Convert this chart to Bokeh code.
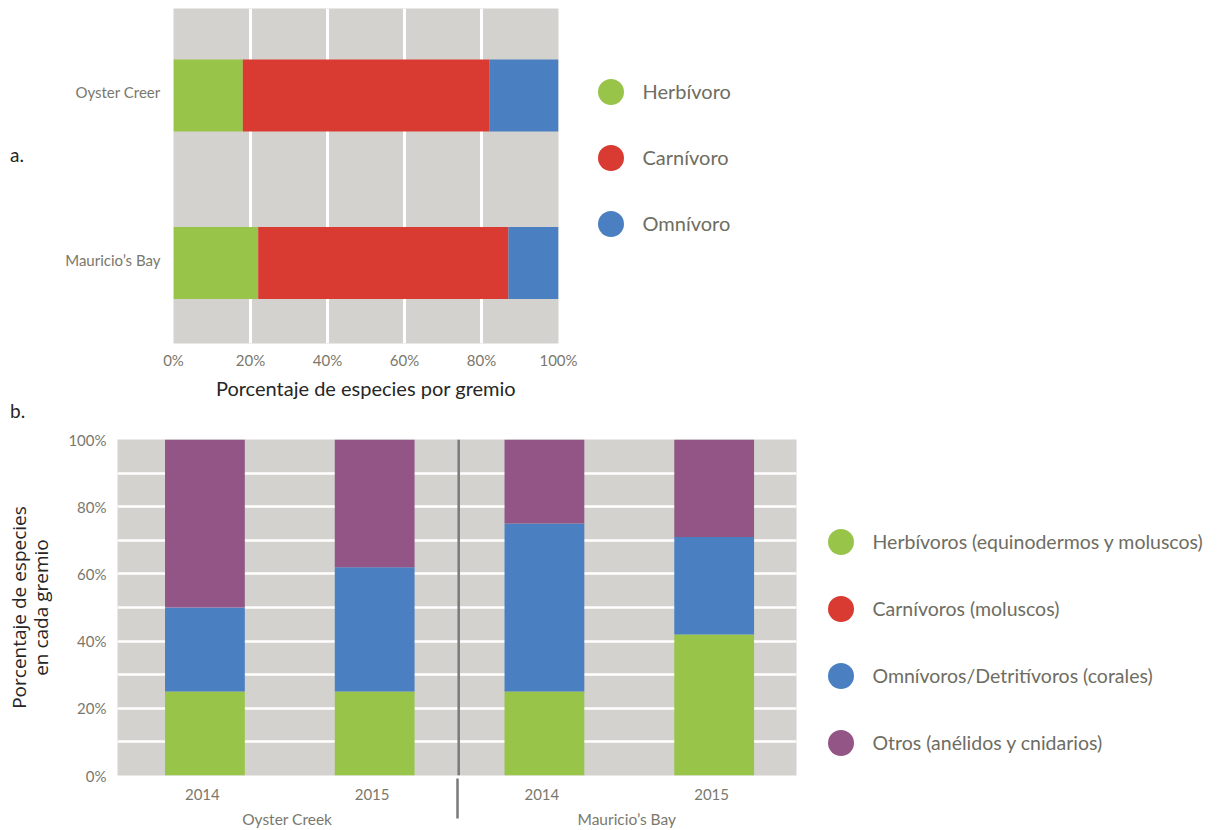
from bokeh.plotting import figure
from bokeh.models import (FactorRange, Range1d, Legend, LegendItem, FixedTicker,
                          PrintfTickFormatter, Span, ColumnDataSource, Div)
from bokeh.transform import dodge
from bokeh.layouts import column, row
from bokeh.embed import file_html
from bokeh.resources import INLINE

# ---------------- data ----------------
sites_a = ["Mauricio\u2019s Bay", "Oyster Creer"]
herb_a = [22, 18]
carn_a = [65, 64]
omni_a = [13, 18]
legend_a = ["Herbívoro", "Carnívoro", "Omnívoro"]

sites_b = ["Oyster Creek", "Mauricio\u2019s Bay"]
years_b = ["2014", "2015"]
herb_b = [25, 25, 25, 42]
carn_b = [0, 0, 0, 0]
omni_b = [25, 37, 50, 29]
otros_b = [50, 38, 25, 29]
legend_b = ["Herbívoros (equinodermos y moluscos)", "Carnívoros (moluscos)",
            "Omnívoros/Detritívoros (corales)", "Otros (anélidos y cnidarios)"]

pct_ticks_a = [0, 20, 40, 60, 80, 100]
pct_ticks_b = [0, 20, 40, 60, 80, 100]
minor_b = [10, 30, 50, 70, 90]

GREEN = "#98C44A"
RED = "#D93A32"
BLUE = "#4A80C2"
PURPLE = "#925586"
BG = "#D4D2CE"
TICK = "#7A786D"
LEG = "#6E6D62"
DARK = "#262626"
FONT = "Lato"
NAN = float("nan")

# ---------------- figure a ----------------
pa = figure(frame_width=385, frame_height=335, output_backend="svg",
            toolbar_location=None,
            y_range=FactorRange(*sites_a), x_range=Range1d(0, 100),
            min_border_left=133, min_border_right=660, min_border_top=8,
            min_border_bottom=59)
pa.background_fill_color = BG
pa.border_fill_color = "white"
pa.outline_line_color = None

src_a = ColumnDataSource(dict(site=sites_a, herb=herb_a, carn=carn_a, omni=omni_a))
pa.hbar_stack(["herb", "carn", "omni"], y=dodge("site", -0.02, range=pa.y_range),
              height=0.43, color=[GREEN, RED, BLUE], line_color=None, source=src_a)

pa.xaxis.ticker = FixedTicker(ticks=pct_ticks_a)
pa.xaxis.formatter = PrintfTickFormatter(format="%d%%")
pa.xgrid.ticker = FixedTicker(ticks=pct_ticks_a[1:-1])
pa.xgrid.grid_line_color = "white"
pa.xgrid.grid_line_width = 3
pa.ygrid.grid_line_color = None
for ax in (pa.xaxis[0], pa.yaxis[0]):
    ax.axis_line_color = None
    ax.major_tick_line_color = None
    ax.minor_tick_line_color = None
    ax.major_label_text_color = TICK
    ax.major_label_text_font = FONT
    ax.major_label_text_font_size = "15px"
pa.xaxis.major_label_standoff = 1
pa.yaxis.major_label_standoff = 7
pa.xaxis.axis_label = "Porcentaje de especies por gremio"
pa.xaxis.axis_label_text_font = FONT
pa.xaxis.axis_label_text_font_style = "normal"
pa.xaxis.axis_label_text_font_size = "20px"
pa.xaxis.axis_label_text_color = DARK
pa.xaxis.axis_label_standoff = 4

leg_r_a = []
for c in (GREEN, RED, BLUE):
    leg_r_a.append(pa.scatter(x=[NAN], y=[NAN], marker="circle", size=26,
                              fill_color=c, line_color=None))
leg_a = Legend(items=[LegendItem(label=l, renderers=[r]) for l, r in zip(legend_a, leg_r_a)],
               location=(19.5, 87.5), glyph_width=65, glyph_height=65, spacing=1,
               label_standoff=0, padding=0, margin=0, border_line_color=None,
               background_fill_alpha=0, label_text_font=FONT,
               label_text_font_size="20px", label_text_color=LEG)
pa.add_layout(leg_a, "right")

# ---------------- figure b ----------------
factors = [(s, y) for s in sites_b for y in years_b]
pb = figure(frame_width=679, frame_height=336, output_backend="svg",
            toolbar_location=None,
            x_range=FactorRange(*factors, factor_padding=0, group_padding=0,
                                range_padding=0),
            y_range=Range1d(0, 100),
            min_border_left=117, min_border_right=422, min_border_top=19,
            min_border_bottom=55)
pb.background_fill_color = BG
pb.border_fill_color = "white"
pb.outline_line_color = None

src_b = ColumnDataSource(dict(x=factors, herb=herb_b, carn=carn_b, omni=omni_b,
                              otros=otros_b))
pb.vbar_stack(["herb", "carn", "omni", "otros"], x=dodge("x", 0.015, range=pb.x_range),
              width=0.47, color=[GREEN, RED, BLUE, PURPLE], line_color=None,
              source=src_b)

pb.yaxis.ticker = FixedTicker(ticks=pct_ticks_b, minor_ticks=minor_b)
pb.yaxis.formatter = PrintfTickFormatter(format="%d%%")
pb.ygrid.grid_line_color = "white"
pb.ygrid.grid_line_width = 2.5
pb.ygrid.minor_grid_line_color = "white"
pb.ygrid.minor_grid_line_width = 2.5
pb.xgrid.grid_line_color = None
for ax in (pb.xaxis[0], pb.yaxis[0]):
    ax.axis_line_color = None
    ax.major_tick_line_color = None
    ax.minor_tick_line_color = None
    ax.major_label_text_color = TICK
    ax.major_label_text_font = FONT
    ax.major_label_text_font_size = "15px"
pb.xaxis.major_label_standoff = 7
pb.xaxis.group_text_color = TICK
pb.xaxis.group_text_font = FONT
pb.xaxis.group_text_font_size = "15.5px"
pb.xaxis.group_text_font_style = "normal"
pb.xaxis.separator_line_color = "#7A7A7A"
pb.xaxis.separator_line_width = 2.5
pb.yaxis.major_label_standoff = 5
pb.yaxis.axis_label = "Porcentaje de especies\nen cada gremio"
pb.yaxis.axis_label_text_font = "Open Sans"
pb.yaxis.axis_label_text_font_style = "normal"
pb.yaxis.axis_label_text_font_size = "19px"
pb.yaxis.axis_label_text_line_height = 0.85
pb.yaxis.axis_label_text_color = DARK
pb.yaxis.axis_label_standoff = 11

pb.add_layout(Span(location=2.01, dimension="height", line_color="#7A7A7A",
                   line_width=2.5))

leg_r_b = []
for c in (GREEN, RED, BLUE, PURPLE):
    leg_r_b.append(pb.scatter(x=[NAN], y=[NAN], marker="circle", size=26,
                              fill_color=c, line_color=None))
leg_b = Legend(items=[LegendItem(label=l, renderers=[r]) for l, r in zip(legend_b, leg_r_b)],
               location=(11.5, 0.5), glyph_width=65, glyph_height=65, spacing=2,
               label_standoff=0, padding=0, margin=0, border_line_color=None,
               background_fill_alpha=0, label_text_font=FONT,
               label_text_font_size="19.5px", label_text_color=LEG)
pb.add_layout(leg_b, "right")

LBL = ('<div style="margin:{}px 0 0 10px;font-family:Lato;'
       'font-size:19px;line-height:18px;color:#262626">{}</div>')
div_a = Div(text=LBL.format(146, "a."), width=40, height=402, margin=0)
div_b = Div(text=LBL.format(0, "b."), width=1218, height=18, margin=0)

layout = column(row(div_a, pa, spacing=0), div_b, pb, spacing=0)
open("out.html", "w").write(file_html(layout, INLINE))
